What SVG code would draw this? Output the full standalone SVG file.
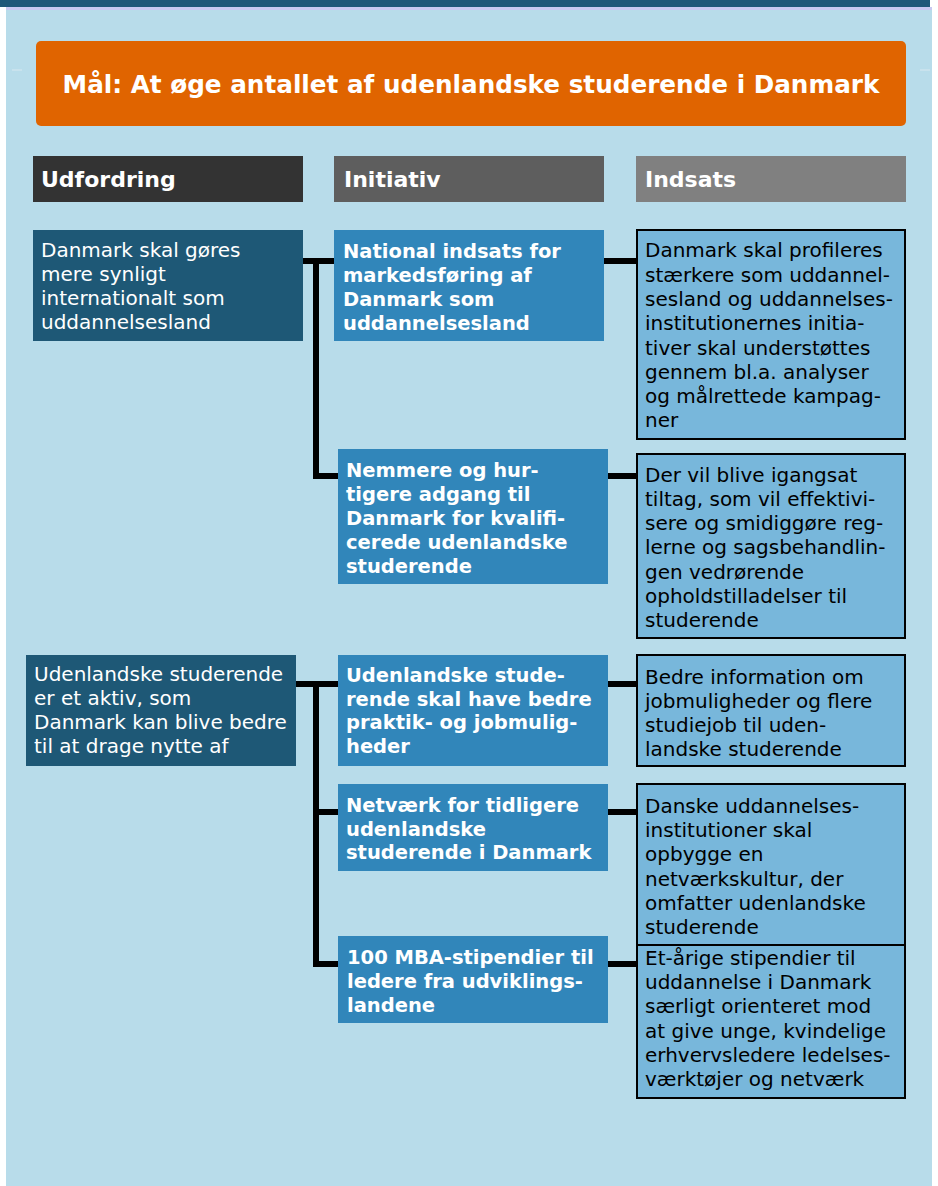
<svg xmlns="http://www.w3.org/2000/svg" width="938" height="1186" viewBox="0 0 938 1186">
<style>
.t{font-family:"DejaVu Sans","Verdana",sans-serif;font-size:20px;}
.w{fill:#ffffff;}
.k{fill:#000000;}
.b{font-weight:bold;font-size:19.5px;}
.h{font-family:"DejaVu Sans","Verdana",sans-serif;font-weight:bold;font-size:22px;fill:#ffffff;}
.dark{fill:#1e5876;}
.mid{fill:#3186ba;}
.lite{fill:#78b7db;stroke:#000000;stroke-width:2;}
.c{stroke:#000000;stroke-width:6;fill:none;stroke-linecap:butt;}
</style>
<rect x="0" y="0" width="938" height="1186" fill="#ffffff"/>
<rect x="6" y="8" width="926" height="1178" fill="#b8dcea"/>
<rect x="0" y="0" width="930" height="7" fill="#1f5878"/>
<rect x="6" y="7" width="926" height="3" fill="#c8c8f0"/>
<line x1="12" y1="70" x2="22" y2="70" stroke="#d8e8f0" stroke-width="1"/>
<line x1="920" y1="70" x2="930" y2="70" stroke="#d8e8f0" stroke-width="1"/>

<g id="goal">
<rect x="36" y="41" width="870" height="85" rx="5" fill="#e06400"/>
<text x="471" y="93" text-anchor="middle" class="h" style="font-size:24.7px">Mål: At øge antallet af udenlandske studerende i Danmark</text>
</g>

<g id="hdr-udfordring"><rect x="33" y="156" width="270" height="46" fill="#333333"/><text x="41" y="187" class="h">Udfordring</text></g>
<g id="hdr-initiativ"><rect x="334" y="156" width="270" height="46" fill="#5e5e5e"/><text x="344" y="187" class="h">Initiativ</text></g>
<g id="hdr-indsats"><rect x="636" y="156" width="270" height="46" fill="#808080"/><text x="645" y="187" class="h">Indsats</text></g>

<g id="connectors">
<path class="c" d="M303 261 H334 M316 258 V479 M313 476 H338"/>
<path class="c" d="M604 261 H636 M608 476 H636"/>
<path class="c" d="M296 684 H338 M316 681 V967 M313 812 H338 M313 964 H338"/>
<path class="c" d="M608 684 H636 M608 812 H636 M608 964 H636"/>
</g>

<g id="u1">
<rect x="33" y="230" width="270" height="111" class="dark"/>
<text class="t w" x="41" y="257">Danmark skal gøres</text>
<text class="t w" x="41" y="281">mere synligt</text>
<text class="t w" x="41" y="305">internationalt som</text>
<text class="t w" x="41" y="329">uddannelsesland</text>
</g>

<g id="i1">
<rect x="334" y="230" width="270" height="111" class="mid"/>
<text class="t b w" x="343" y="258">National indsats for</text>
<text class="t b w" x="343" y="282">markedsføring af</text>
<text class="t b w" x="343" y="306">Danmark som</text>
<text class="t b w" x="343" y="330">uddannelsesland</text>
</g>

<g id="n1">
<rect x="637" y="230" width="268" height="209" class="lite"/>
<text class="t k" x="645" y="257">Danmark skal profileres</text>
<text class="t k" x="645" y="282">stærkere som uddannel-</text>
<text class="t k" x="645" y="306">sesland og uddannelses-</text>
<text class="t k" x="645" y="330">institutionernes initia-</text>
<text class="t k" x="645" y="355">tiver skal understøttes</text>
<text class="t k" x="645" y="379">gennem bl.a. analyser</text>
<text class="t k" x="645" y="403">og målrettede kampag-</text>
<text class="t k" x="645" y="427">ner</text>
</g>

<g id="i2">
<rect x="338" y="449" width="270" height="135" class="mid"/>
<text class="t b w" x="346" y="477">Nemmere og hur-</text>
<text class="t b w" x="346" y="501">tigere adgang til</text>
<text class="t b w" x="346" y="525">Danmark for kvalifi-</text>
<text class="t b w" x="346" y="549">cerede udenlandske</text>
<text class="t b w" x="346" y="573">studerende</text>
</g>

<g id="n2">
<rect x="637" y="454" width="268" height="184" class="lite"/>
<text class="t k" x="645" y="482">Der vil blive igangsat</text>
<text class="t k" x="645" y="506">tiltag, som vil effektivi-</text>
<text class="t k" x="645" y="530">sere og smidiggøre reg-</text>
<text class="t k" x="645" y="554">lerne og sagsbehandlin-</text>
<text class="t k" x="645" y="579">gen vedrørende</text>
<text class="t k" x="645" y="603">opholdstilladelser til</text>
<text class="t k" x="645" y="627">studerende</text>
</g>

<g id="u2">
<rect x="26" y="655" width="270" height="111" class="dark"/>
<text class="t w" x="34" y="681">Udenlandske studerende</text>
<text class="t w" x="34" y="705">er et aktiv, som</text>
<text class="t w" x="34" y="729">Danmark kan blive bedre</text>
<text class="t w" x="34" y="753">til at drage nytte af</text>
</g>

<g id="i3">
<rect x="338" y="655" width="270" height="111" class="mid"/>
<text class="t b w" x="346" y="682">Udenlandske stude-</text>
<text class="t b w" x="346" y="706">rende skal have bedre</text>
<text class="t b w" x="346" y="729">praktik- og jobmulig-</text>
<text class="t b w" x="346" y="753">heder</text>
</g>

<g id="n3">
<rect x="637" y="655" width="268" height="111" class="lite"/>
<text class="t k" x="645" y="684">Bedre information om</text>
<text class="t k" x="645" y="708">jobmuligheder og flere</text>
<text class="t k" x="645" y="732">studiejob til uden-</text>
<text class="t k" x="645" y="756">landske studerende</text>
</g>

<g id="i4">
<rect x="338" y="784" width="270" height="87" class="mid"/>
<text class="t b w" x="346" y="812">Netværk for tidligere</text>
<text class="t b w" x="346" y="836">udenlandske</text>
<text class="t b w" x="346" y="859">studerende i Danmark</text>
</g>

<g id="n4">
<rect x="637" y="784" width="268" height="161" class="lite"/>
<text class="t k" x="645" y="813">Danske uddannelses-</text>
<text class="t k" x="645" y="837">institutioner skal</text>
<text class="t k" x="645" y="861">opbygge en</text>
<text class="t k" x="645" y="886">netværkskultur, der</text>
<text class="t k" x="645" y="910">omfatter udenlandske</text>
<text class="t k" x="645" y="934">studerende</text>
</g>

<g id="i5">
<rect x="338" y="936" width="270" height="87" class="mid"/>
<text class="t b w" x="347" y="964">100 MBA-stipendier til</text>
<text class="t b w" x="347" y="988">ledere fra udviklings-</text>
<text class="t b w" x="347" y="1012">landene</text>
</g>

<g id="n5">
<rect x="637" y="945" width="268" height="153" class="lite"/>
<text class="t k" x="645" y="965">Et-årige stipendier til</text>
<text class="t k" x="645" y="989">uddannelse i Danmark</text>
<text class="t k" x="645" y="1013">særligt orienteret mod</text>
<text class="t k" x="645" y="1038">at give unge, kvindelige</text>
<text class="t k" x="645" y="1062">erhvervsledere ledelses-</text>
<text class="t k" x="645" y="1086">værktøjer og netværk</text>
</g>
</svg>
